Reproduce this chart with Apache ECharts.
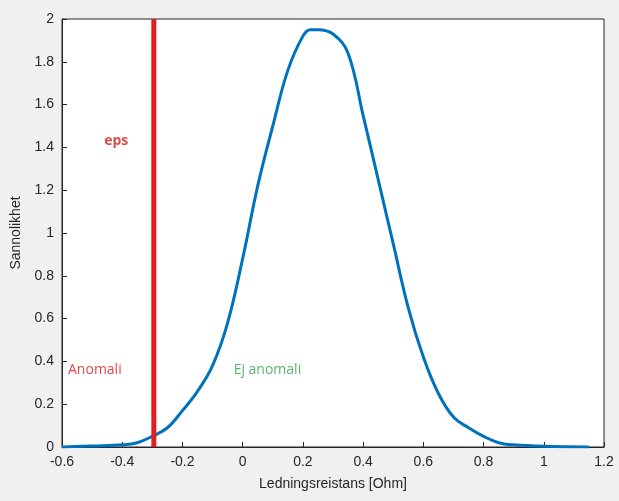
<!DOCTYPE html>
<html><head><meta charset="utf-8">
<script src="https://cdn.jsdelivr.net/npm/echarts@6/dist/echarts.min.js"></script>
<style>html,body{margin:0;padding:0;background:#f0f0f0;}#c{width:619px;height:501px;}</style>
</head><body><div id="c"></div>
<script>
const xs = [-0.6,-0.5,-0.4,-0.35,-0.3,-0.25,-0.2,-0.15,-0.1,-0.05,0,0.05,0.1,0.15,0.2,0.225,0.25,0.3,0.35,0.4,0.45,0.5,0.55,0.6,0.65,0.7,0.75,0.8,0.85,0.9,1.0,1.15];
const ys = [0,0.005,0.01,0.02,0.05,0.09,0.17,0.26,0.38,0.58,0.88,1.22,1.5,1.76,1.92,1.95,1.95,1.93,1.84,1.55,1.25,0.95,0.65,0.42,0.25,0.14,0.09,0.05,0.02,0.01,0.003,0.0];
const epsX = -0.295;
const labels = [["eps",-0.46,1.43,"#d7191c",true],["Anomali",-0.58,0.36,"#d7191c",false],["Ej anomali",-0.03,0.36,"#2ea04a",false]];
const chart = echarts.init(document.getElementById('c'));
const ax = {color:'#262626',fontSize:14,fontFamily:'Liberation Sans, Arial'};
chart.setOption({
  backgroundColor:'#f0f0f0',
  grid:{left:62,right:15,top:19,bottom:54,show:true,backgroundColor:'#fff',borderColor:'#262626',borderWidth:1},
  xAxis:{type:'value',min:-0.6,max:1.2,interval:0.2,name:'Ledningsreistans [Ohm]',nameLocation:'middle',nameGap:30,nameTextStyle:ax,
    axisLabel:Object.assign({formatter:v=>Math.abs(v)<1e-9?'0':String(+v.toFixed(1))},ax),
    axisTick:{inside:true,length:5,lineStyle:{color:'#262626'}},axisLine:{onZero:false,lineStyle:{color:'#262626'}},splitLine:{show:false}},
  yAxis:{type:'value',min:0,max:2,interval:0.2,name:'Sannolikhet',nameLocation:'middle',nameGap:38,nameTextStyle:ax,
    axisLabel:Object.assign({formatter:v=>String(+v.toFixed(1))},ax),
    axisTick:{inside:true,length:5,lineStyle:{color:'#262626'}},axisLine:{show:true,onZero:false,lineStyle:{color:'#262626'}},splitLine:{show:false}},
  series:[
    {type:'line',data:xs.map((x,i)=>[x,ys[i]]),smooth:0.4,showSymbol:false,lineStyle:{color:'#0072bd',width:3}},
    {type:'line',data:[[epsX,0],[epsX,2]],showSymbol:false,lineStyle:{color:'#e0201e',width:5}},
    {type:'scatter',symbolSize:0,data:labels.map(l=>({value:[l[1],l[2]],label:{show:true,position:'right',distance:0,formatter:l[0],color:l[3],fontSize:14,fontWeight:l[4]?'bold':'normal',fontFamily:'Open Sans, Noto Sans'}}))}
  ]
});
</script></body></html>
